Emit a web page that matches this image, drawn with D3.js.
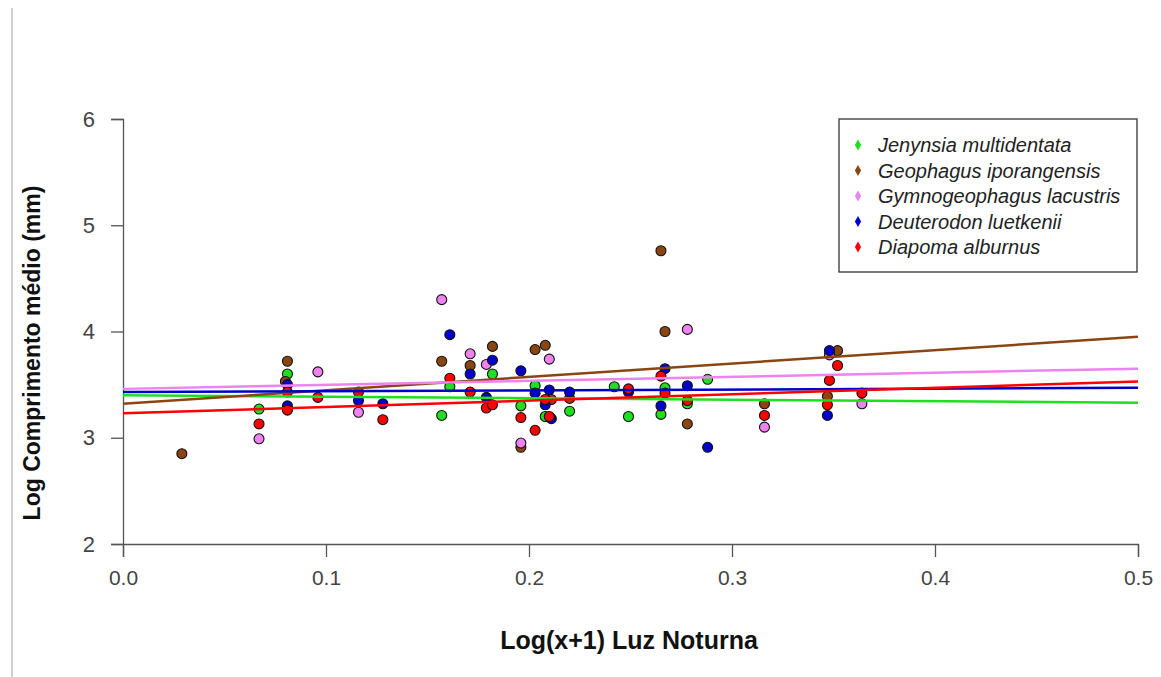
<!DOCTYPE html>
<html>
<head>
<meta charset="utf-8">
<script src="https://cdn.jsdelivr.net/npm/d3@7"></script>
<style>
  body { margin: 0; background: #fff; }
  svg { display: block; font-family: "Liberation Sans", Arial, sans-serif; }
</style>
</head>
<body>
<div id="chart"></div>
<script>
// species (legend order)
var species = ["Jenynsia multidentata", "Geophagus iporangensis", "Gymnogeophagus lacustris", "Deuterodon luetkenii", "Diapoma alburnus"];
var colors = ["#1ee01e", "#8b4513", "#ee82ee", "#0000cd", "#ff0000"];

// points per species: x = Log(x+1) Luz Noturna, y = Log comprimento
var jenX = [0.081, 0.067, 0.161, 0.157, 0.182, 0.196, 0.203, 0.208, 0.220, 0.242, 0.249, 0.267, 0.265, 0.278, 0.288];
var jenY = [3.60, 3.27, 3.48, 3.21, 3.60, 3.30, 3.49, 3.20, 3.25, 3.48, 3.20, 3.47, 3.22, 3.32, 3.55];

var geoX = [0.029, 0.081, 0.080, 0.157, 0.171, 0.182, 0.196, 0.203, 0.208, 0.211, 0.220, 0.265, 0.267, 0.278, 0.316, 0.352, 0.347];
var geoY = [2.85, 3.72, 3.53, 3.72, 3.68, 3.86, 2.91, 3.83, 3.87, 3.36, 3.37, 4.76, 4.00, 3.13, 3.32, 3.82, 3.39];

var gymX = [0.067, 0.096, 0.116, 0.157, 0.171, 0.179, 0.196, 0.210, 0.278, 0.316, 0.348, 0.364];
var gymY = [2.99, 3.62, 3.24, 4.30, 3.79, 3.69, 2.95, 3.74, 4.02, 3.10, 3.78, 3.32];

var deuX = [0.081, 0.081, 0.116, 0.128, 0.161, 0.171, 0.182, 0.179, 0.196, 0.203, 0.208, 0.210, 0.211, 0.220, 0.249, 0.267, 0.265, 0.278, 0.288, 0.348, 0.347];
var deuY = [3.50, 3.30, 3.35, 3.32, 3.97, 3.60, 3.73, 3.38, 3.63, 3.42, 3.31, 3.45, 3.18, 3.43, 3.43, 3.65, 3.30, 3.49, 2.91, 3.82, 3.21];

var diaX = [0.081, 0.081, 0.067, 0.096, 0.116, 0.128, 0.161, 0.171, 0.179, 0.182, 0.196, 0.203, 0.208, 0.210, 0.249, 0.265, 0.267, 0.278, 0.316, 0.352, 0.348, 0.347, 0.364];
var diaY = [3.43, 3.26, 3.13, 3.38, 3.43, 3.17, 3.56, 3.43, 3.28, 3.31, 3.19, 3.07, 3.36, 3.20, 3.46, 3.58, 3.42, 3.35, 3.21, 3.68, 3.54, 3.31, 3.42];

// regression lines: [intercept, slope]
var fits = [[3.40, -0.14], [3.32, 1.26], [3.46, 0.38], [3.43, 0.08], [3.23, 0.60]];

var xTicks = [0, 0.1, 0.2, 0.3, 0.4, 0.5];
var yTicks = [2, 3, 4, 5, 6];

var seriesX = [jenX, geoX, gymX, deuX, diaX];
var seriesY = [jenY, geoY, gymY, deuY, diaY];

var W = 1161, H = 677;
var svg = d3.select("#chart").append("svg").attr("width", W).attr("height", H);

// thin gray border line on the left
svg.append("line")
  .attr("x1", 12).attr("x2", 12).attr("y1", 8).attr("y2", H)
  .style("stroke", "#d0d0d0").style("stroke-width", 2);

var x = d3.scaleLinear().domain([0, 0.5]).range([123, 1138]);
var y = d3.scaleLinear().domain([2, 6]).range([544, 119]);

var axisColor = "#555";

// x axis
var gx = svg.append("g")
  .attr("transform", "translate(0,544)")
  .call(d3.axisBottom(x).tickValues(xTicks).tickFormat(d3.format(".1f")).tickSize(13).tickPadding(13));
gx.select(".domain").attr("stroke", axisColor).attr("stroke-width", 1.3);
gx.selectAll(".tick line").attr("stroke", axisColor).attr("stroke-width", 1.3);
gx.selectAll("text").style("font-size", "21px").attr("fill", "#444");

// y axis
var gy = svg.append("g")
  .attr("transform", "translate(123,0)")
  .call(d3.axisLeft(y).tickValues(yTicks).tickFormat(d3.format("d")).tickSize(12).tickPadding(16));
gy.select(".domain").attr("stroke", axisColor).attr("stroke-width", 1.3);
gy.selectAll(".tick line").attr("stroke", axisColor).attr("stroke-width", 1.3);
gy.selectAll("text").style("font-size", "22px").attr("fill", "#444");

// axis titles
svg.append("text")
  .attr("x", 629).attr("y", 649)
  .attr("text-anchor", "middle")
  .style("font-size", "25px").style("font-weight", "bold").attr("fill", "#111")
  .text("Log(x+1) Luz Noturna");

svg.append("text")
  .attr("transform", "translate(40,353)rotate(-90)")
  .attr("text-anchor", "middle")
  .style("font-size", "23px").style("font-weight", "bold").attr("fill", "#111")
  .text("Log Comprimento médio (mm)");

// points
species.forEach(function (s, i) {
  var pts = seriesX[i].map(function (v, j) { return { x: v, y: seriesY[i][j] }; });
  svg.append("g")
    .selectAll("circle")
    .data(pts)
    .enter()
    .append("circle")
    .attr("cx", function (d) { return x(d.x); })
    .attr("cy", function (d) { return y(d.y); })
    .attr("r", 5)
    .style("fill", colors[i])
    .style("stroke", "#111")
    .style("stroke-width", 1.1);
});

// fitted lines (drawn over the points)
fits.forEach(function (f, i) {
  svg.append("line")
    .attr("x1", x(0)).attr("y1", y(f[0]))
    .attr("x2", x(0.5)).attr("y2", y(f[0] + f[1] * 0.5))
    .style("stroke", colors[i])
    .style("stroke-width", 2.5);
});

// legend
var lg = svg.append("g").attr("transform", "translate(839,119)");
lg.append("rect")
  .attr("width", 298).attr("height", 153)
  .style("fill", "#fff").style("stroke", "#333").style("stroke-width", 1.3);
species.forEach(function (s, i) {
  var row = lg.append("g").attr("transform", "translate(0," + (26 + i * 25.5) + ")");
  row.append("path")
    .attr("d", d3.symbol().type(d3.symbolDiamond).size(34)())
    .attr("transform", "translate(19,0)")
    .style("fill", colors[i]);
  row.append("text")
    .attr("x", 39).attr("y", 7)
    .style("font-size", "20px").style("font-style", "italic").attr("fill", "#222")
    .text(s);
});
</script>
</body>
</html>
